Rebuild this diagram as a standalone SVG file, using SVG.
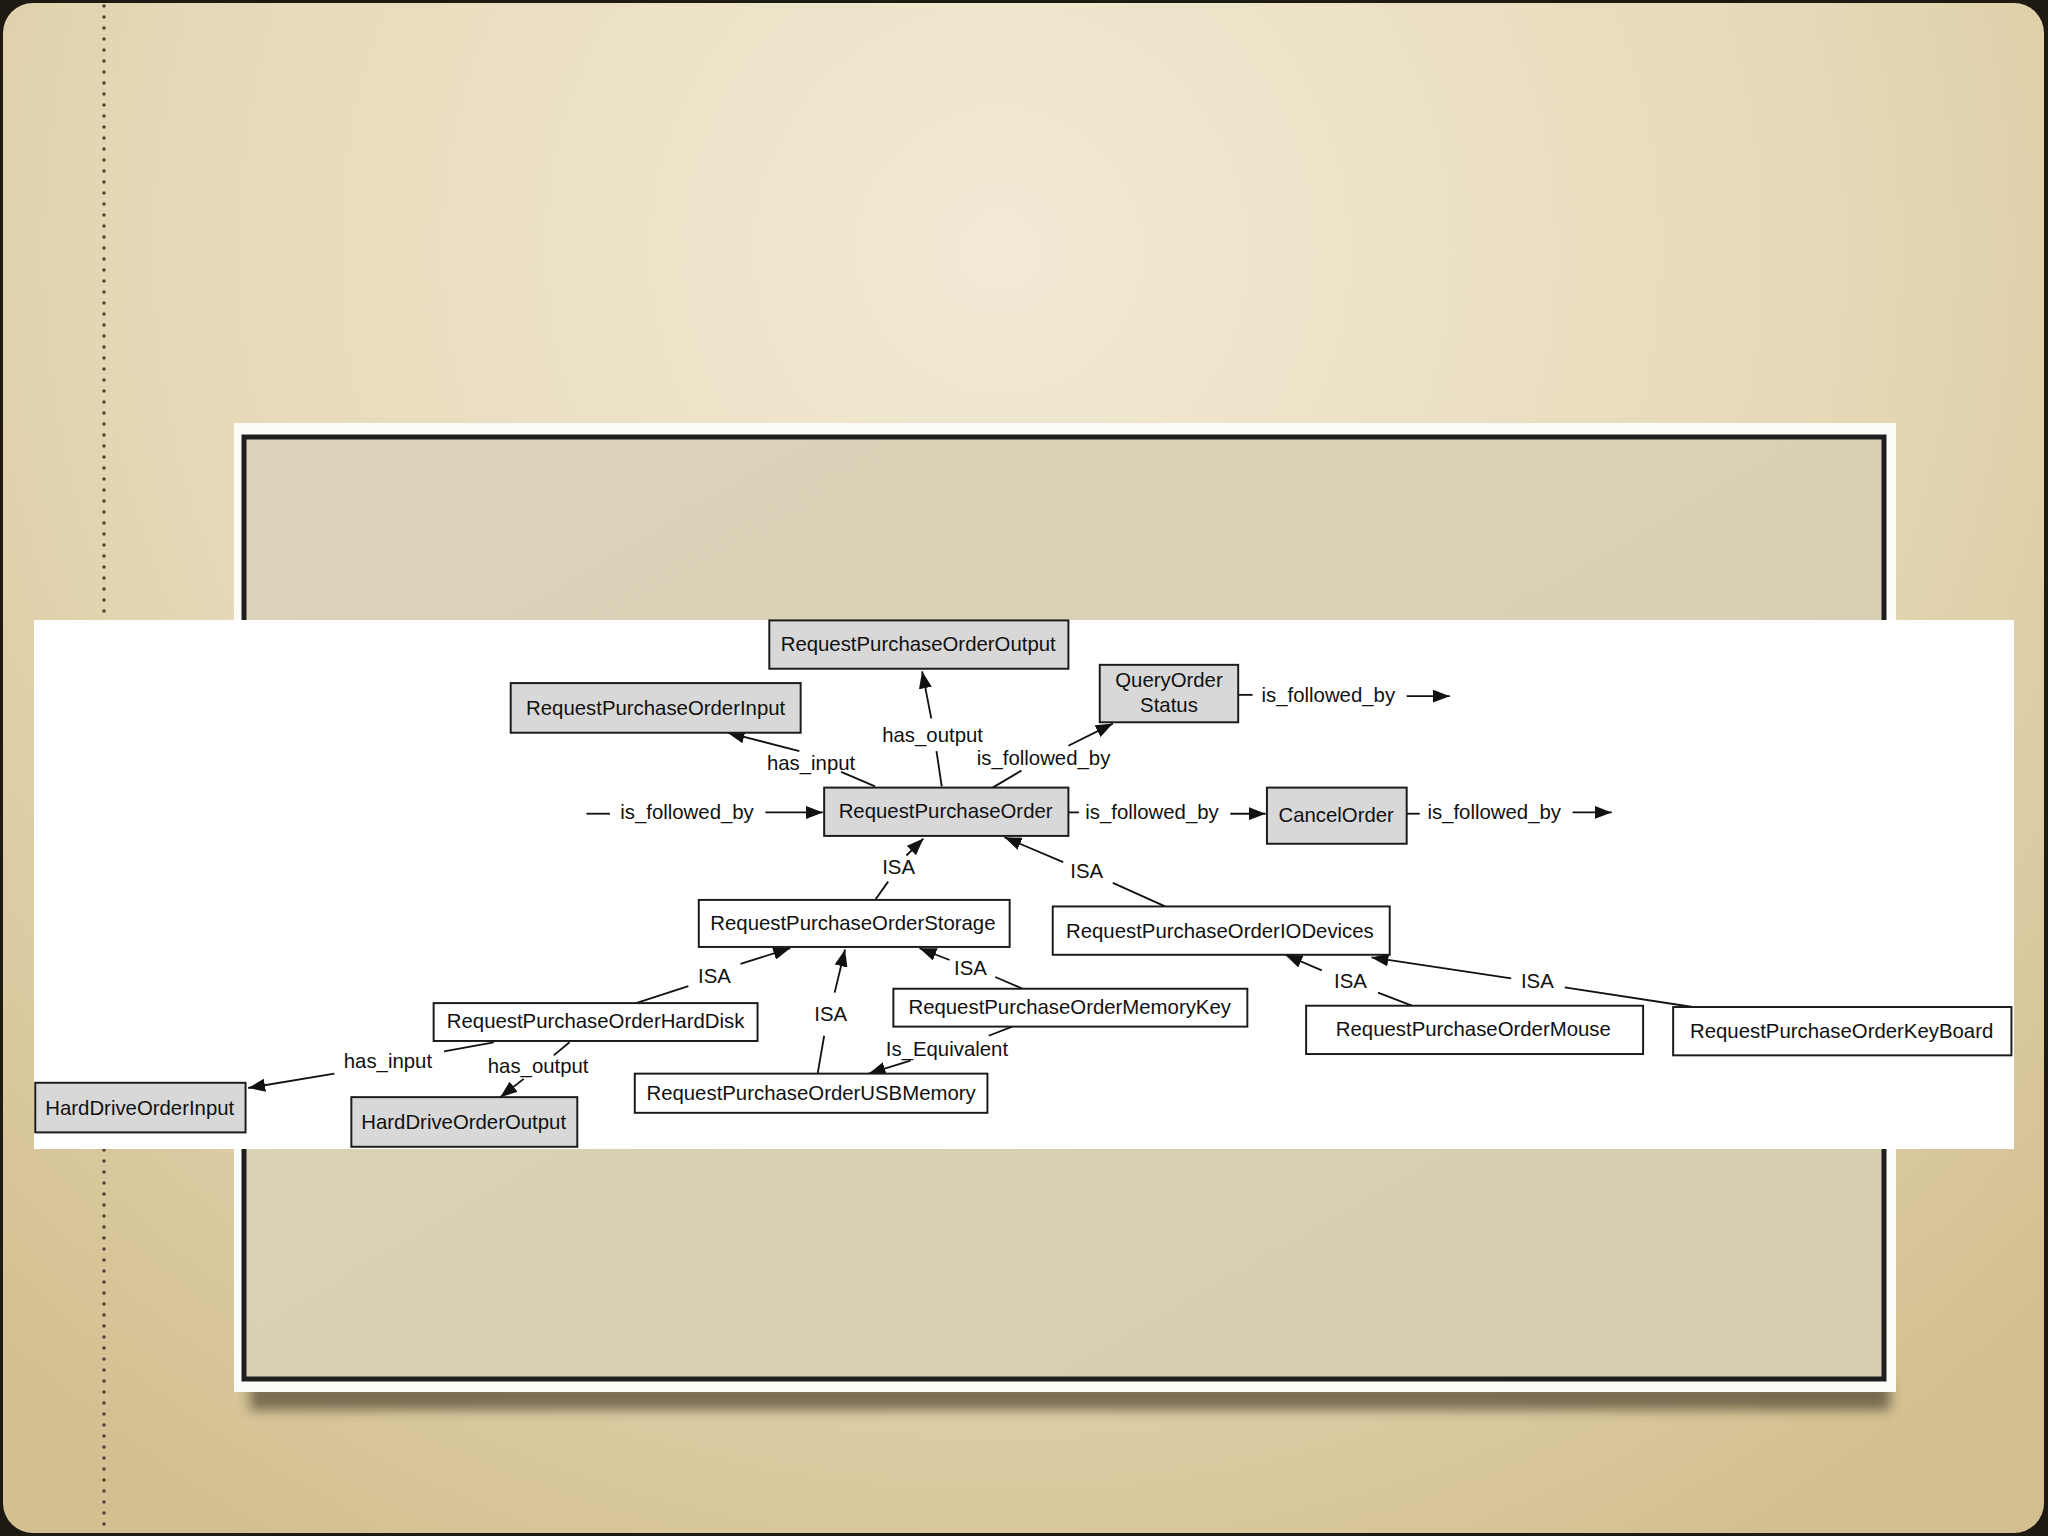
<svg xmlns="http://www.w3.org/2000/svg" width="2048" height="1536" viewBox="0 0 2048 1536">
<defs>
  <radialGradient id="bg" cx="1000" cy="250" r="1500" gradientUnits="userSpaceOnUse">
    <stop offset="0" stop-color="#f2ead5"/>
    <stop offset="0.55" stop-color="#e6d9b8"/>
    <stop offset="1" stop-color="#d3bf90"/>
  </radialGradient>
  <linearGradient id="panel" x1="0" y1="0" x2="1" y2="1">
    <stop offset="0" stop-color="#dcd3ba"/>
    <stop offset="1" stop-color="#d6ccb0"/>
  </linearGradient>
  <filter id="blur" x="-10%" y="-50%" width="120%" height="200%">
    <feGaussianBlur stdDeviation="6"/>
  </filter>
  <marker id="ah" viewBox="0 0 13 10" refX="13" refY="5" markerWidth="13" markerHeight="10" markerUnits="userSpaceOnUse" orient="auto">
    <path d="M0,0 L13,5 L0,10 z" fill="#111"/>
  </marker>
  <style>
    .box rect { stroke: #1a1a1a; stroke-width: 1.5; }
    .gray rect { fill: #d8d8d8; }
    .white rect { fill: #ffffff; }
    text { font-family: "Liberation Sans", Arial, Helvetica, sans-serif; font-size: 15.6px; fill: #111; text-anchor: middle; dominant-baseline: central; }
    .edges line { stroke: #111; stroke-width: 1.4; fill: none; }
    .edges line.h { marker-end: url(#ah); }
  </style>
</defs>

<!-- page background -->
<rect x="0" y="0" width="2048" height="1536" fill="#1e1a12"/>
<rect x="3" y="3" width="2041" height="1530" rx="30" ry="30" fill="url(#bg)"/>
<line x1="104" y1="6" x2="104" y2="1530" stroke="#4a4436" stroke-width="3.5" stroke-linecap="round" stroke-dasharray="0 11"/>

<!-- slide frame -->
<rect x="250" y="1382" width="1640" height="28" fill="#3a3222" opacity="0.6" filter="url(#blur)"/>
<rect x="234" y="423" width="1662" height="969" fill="#fbfbf8"/>
<rect x="244" y="437" width="1640" height="942" fill="url(#panel)" stroke="#1e1e1e" stroke-width="5"/>

<!-- white diagram band -->
<rect x="34" y="620" width="1980" height="529" fill="#ffffff"/>

<g transform="scale(1.306122)">
  <g class="edges" id="connectors">
    <!-- has_input -->
    <line x1="670" y1="602" x2="644" y2="591"/>
    <line class="h" x1="612" y1="575" x2="557" y2="561"/>
    <!-- has_output -->
    <line x1="721" y1="602" x2="717" y2="575"/>
    <line class="h" x1="713" y1="550" x2="706" y2="514"/>
    <!-- is_followed_by to QueryOrderStatus -->
    <line x1="760" y1="603" x2="782" y2="590"/>
    <line class="h" x1="818" y1="571" x2="852" y2="554"/>
    <!-- QueryOrderStatus outgoing -->
    <line x1="948" y1="532" x2="959" y2="532"/>
    <line class="h" x1="1077" y1="533" x2="1110" y2="533"/>
    <!-- incoming to RequestPurchaseOrder -->
    <line x1="449" y1="623" x2="467" y2="623"/>
    <line class="h" x1="586" y1="622" x2="630" y2="622"/>
    <!-- RPO to CancelOrder -->
    <line x1="818" y1="622" x2="826" y2="622"/>
    <line class="h" x1="942" y1="623" x2="969" y2="623"/>
    <!-- CancelOrder outgoing -->
    <line x1="1077" y1="623" x2="1087" y2="623"/>
    <line class="h" x1="1204" y1="622" x2="1234" y2="622"/>
    <!-- Storage ISA RPO -->
    <line x1="670" y1="689" x2="680" y2="675"/>
    <line class="h" x1="694" y1="655" x2="707" y2="642"/>
    <!-- IODevices ISA RPO -->
    <line x1="892" y1="694" x2="852" y2="676"/>
    <line class="h" x1="814" y1="660" x2="769" y2="641"/>
    <!-- HardDisk ISA Storage -->
    <line x1="487" y1="768" x2="527" y2="755"/>
    <line class="h" x1="567" y1="738" x2="605" y2="726"/>
    <!-- USBMemory ISA Storage -->
    <line x1="626" y1="822" x2="631" y2="793"/>
    <line class="h" x1="639" y1="760" x2="647" y2="727"/>
    <!-- MemoryKey ISA Storage -->
    <line x1="783" y1="757" x2="762" y2="748"/>
    <line class="h" x1="727" y1="735" x2="704" y2="726"/>
    <!-- MemoryKey Is_Equivalent USBMemory -->
    <line x1="775" y1="786" x2="757" y2="793"/>
    <line class="h" x1="697" y1="812" x2="665" y2="822"/>
    <!-- Mouse ISA IODevices -->
    <line x1="1081" y1="770" x2="1055" y2="760"/>
    <line class="h" x1="1012" y1="743" x2="984" y2="731"/>
    <!-- KeyBoard ISA IODevices -->
    <line x1="1296" y1="771" x2="1198" y2="756"/>
    <line class="h" x1="1157" y1="749" x2="1050" y2="733"/>
    <!-- HardDisk has_input HardDriveOrderInput -->
    <line x1="378" y1="798" x2="340" y2="805"/>
    <line class="h" x1="256" y1="822" x2="190" y2="833"/>
    <!-- HardDisk has_output HardDriveOrderOutput -->
    <line x1="436" y1="798" x2="424" y2="808"/>
    <line class="h" x1="401" y1="826" x2="383" y2="840"/>

    <text x="621" y="584">has_input</text>
    <text x="714" y="563">has_output</text>
    <text x="799" y="580">is_followed_by</text>
    <text x="1017" y="532">is_followed_by</text>
    <text x="526" y="622">is_followed_by</text>
    <text x="882" y="622">is_followed_by</text>
    <text x="1144" y="622">is_followed_by</text>
    <text x="688" y="664">ISA</text>
    <text x="832" y="667">ISA</text>
    <text x="547" y="747">ISA</text>
    <text x="636" y="776">ISA</text>
    <text x="743" y="741">ISA</text>
    <text x="725" y="803">Is_Equivalent</text>
    <text x="1034" y="751">ISA</text>
    <text x="1177" y="751">ISA</text>
    <text x="297" y="812">has_input</text>
    <text x="412" y="816">has_output</text>
  </g>

  <g id="n-output" class="box gray"><rect x="589" y="475" width="229" height="37"/><text x="703" y="493">RequestPurchaseOrderOutput</text></g>
  <g id="n-input" class="box gray"><rect x="391" y="523" width="222" height="38"/><text x="502" y="542">RequestPurchaseOrderInput</text></g>
  <g id="n-query" class="box gray"><rect x="842" y="509" width="106" height="44"/><text x="895" y="521">QueryOrder</text><text x="895" y="540">Status</text></g>
  <g id="n-rpo" class="box gray"><rect x="631" y="603" width="187" height="37"/><text x="724" y="621">RequestPurchaseOrder</text></g>
  <g id="n-cancel" class="box gray"><rect x="970" y="603" width="107" height="43"/><text x="1023" y="624">CancelOrder</text></g>
  <g id="n-storage" class="box white"><rect x="535" y="689" width="238" height="36"/><text x="653" y="707">RequestPurchaseOrderStorage</text></g>
  <g id="n-io" class="box white"><rect x="806" y="694" width="258" height="37"/><text x="934" y="713">RequestPurchaseOrderIODevices</text></g>
  <g id="n-harddisk" class="box white"><rect x="332" y="768" width="248" height="29"/><text x="456" y="782">RequestPurchaseOrderHardDisk</text></g>
  <g id="n-memkey" class="box white"><rect x="684" y="757" width="271" height="29"/><text x="819" y="771">RequestPurchaseOrderMemoryKey</text></g>
  <g id="n-mouse" class="box white"><rect x="1000" y="770" width="258" height="37"/><text x="1128" y="788">RequestPurchaseOrderMouse</text></g>
  <g id="n-keyboard" class="box white"><rect x="1281" y="771" width="259" height="37"/><text x="1410" y="789">RequestPurchaseOrderKeyBoard</text></g>
  <g id="n-usb" class="box white"><rect x="486" y="822" width="270" height="30"/><text x="621" y="837">RequestPurchaseOrderUSBMemory</text></g>
  <g id="n-hdin" class="box gray"><rect x="27" y="829" width="161" height="38"/><text x="107" y="848">HardDriveOrderInput</text></g>
  <g id="n-hdout" class="box gray"><rect x="269" y="840" width="173" height="38"/><text x="355" y="859">HardDriveOrderOutput</text></g>
</g>
</svg>
